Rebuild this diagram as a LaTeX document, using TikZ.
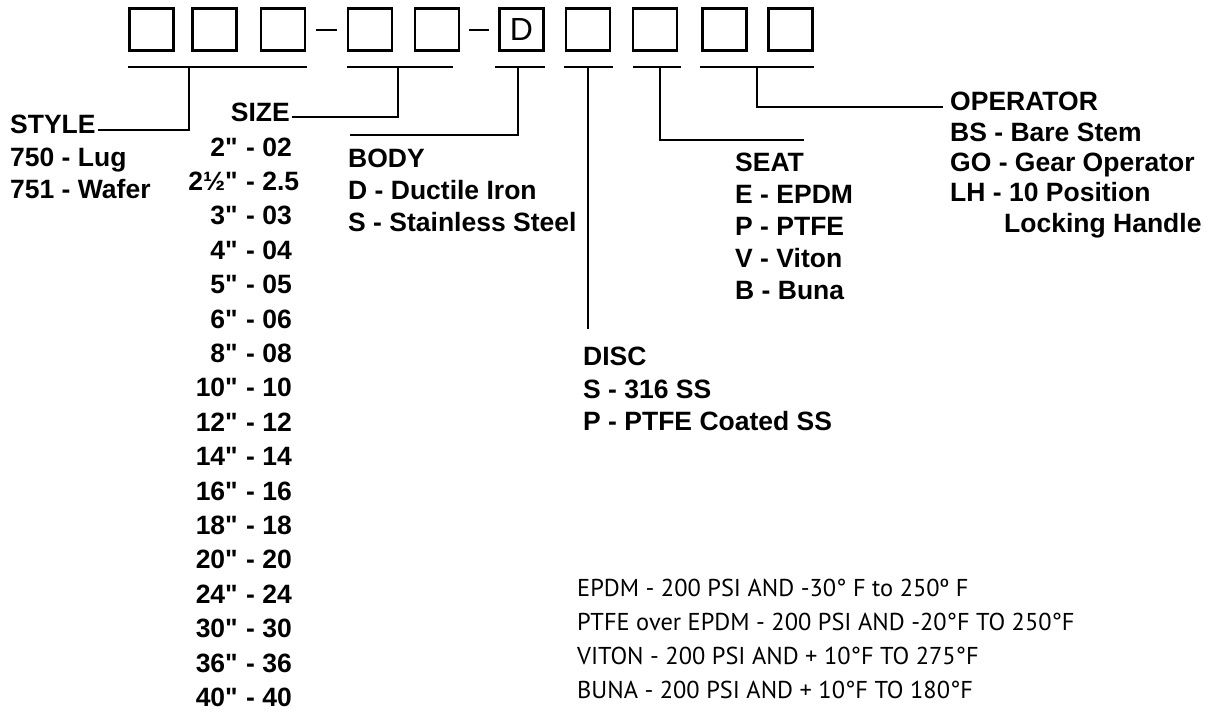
\documentclass[tikz,border=0pt]{standalone}
\usepackage{fontspec}
\setmainfont{Liberation Sans}[Ligatures=TeXOff]
\newfontfamily\notefont{PT Sans}
\newfontfamily\dfont{Liberation Sans}
\usetikzlibrary{calc}
\begin{document}
\begin{tikzpicture}[x=1pt,y=-1pt,
  digit/.style={draw, line width=2.6pt, minimum width=44pt, minimum height=42pt, inner sep=0pt},
  lbl/.style={font=\bfseries\fontsize{26.5}{30}\selectfont, inner sep=0pt, text height=19pt, text depth=0pt, anchor=west},
  note/.style={font=\notefont\fontsize{24.4}{28}\selectfont, inner sep=0pt, text height=17pt, text depth=0pt, anchor=west},
  lead/.style={line width=2.6pt},
  sep/.style={line width=2pt}]
\useasboundingbox (0,0) rectangle (1219,713);
% code boxes
\node[digit] (b1) at (151.5,29.5) {};
\node[digit] (b2) at (214.5,29.5) {};
\node[digit] (b3) at (283,29.5) {};
\node[digit] (b4) at (370,29.5) {};
\node[digit] (b5) at (437,29.5) {};
\node[digit, font=\dfont\fontsize{32}{34}\selectfont] (b6) at (521.5,29.5) {D};
\node[digit] (b7) at (588,29.5) {};
\node[digit] (b8) at (655,29.5) {};
\node[digit] (b9) at (724.5,29.5) {};
\node[digit] (b10) at (790.5,29.5) {};
% dashes
\draw[sep] ([xshift=10pt]b3.east) -- ([xshift=-10pt]b4.west);
\draw[sep] ([xshift=9pt]b5.east) -- ([xshift=-9pt]b6.west);
% underlines
\coordinate (u1a) at (128,67); \coordinate (u1b) at (307,67);
\coordinate (u2a) at (347,67); \coordinate (u2b) at (453,67);
\coordinate (u3a) at (495,67); \coordinate (u3b) at (545,67);
\coordinate (u4a) at (564,67); \coordinate (u4b) at (613,67);
\coordinate (u5a) at (633,67); \coordinate (u5b) at (681,67);
\coordinate (u6a) at (700,67); \coordinate (u6b) at (814,67);
\draw[lead] (u1a) -- (u1b);
\draw[lead] (u2a) -- (u2b);
\draw[lead] (u3a) -- (u3b);
\draw[lead] (u4a) -- (u4b);
\draw[lead] (u5a) -- (u5b);
\draw[lead] (u6a) -- (u6b);
% leader tap points
\coordinate (tstyle) at (189,67);
\coordinate (tsize) at (398,67);
\coordinate (tbody) at (518,67);
\coordinate (tdisc) at (588,67);
\coordinate (tseat) at (660,67);
\coordinate (toper) at (757,67);
% STYLE
\node[lbl] (nstyle) at (10,124) {STYLE};
\node[lbl] (st1) at (10,157) {750 - Lug};
\node[lbl] (st2) at (10,189) {751 - Wafer};
% SIZE
\node[lbl, anchor=east] (nsize) at (290,112) {SIZE};
\foreach \a/\b [count=\i] in {2/02, 2½/2.5, 3/03, 4/04, 5/05, 6/06, 8/08, 10/10, 12/12, 14/14, 16/16, 18/18, 20/20, 24/24, 30/30, 36/36, 40/40}{
  \node[lbl, anchor=east] (sl\i) at (238,{146.5+34.4*(\i-1)}) {\a\symbol{34}};
  \node[lbl] (sr\i) at (246,{146.5+34.4*(\i-1)}) {- \b};
}
% BODY
\node[lbl] (nbody) at (348,158) {BODY};
\node[lbl] (bo1) at (348,190) {D - Ductile Iron};
\node[lbl] (bo2) at (348,222) {S - Stainless Steel};
% SEAT
\node[lbl] (nseat) at (735,162) {SEAT};
\node[lbl] (se1) at (735,194) {E - EPDM};
\node[lbl] (se2) at (735,226) {P - PTFE};
\node[lbl] (se3) at (735,258) {V - Viton};
\node[lbl] (se4) at (735,290) {B - Buna};
% DISC
\node[lbl] (ndisc) at (583,356) {DISC};
\node[lbl] (di1) at (583,389) {S - 316 SS};
\node[lbl] (di2) at (583,421) {P - PTFE Coated SS};
% OPERATOR
\node[lbl] (noper) at (950,101) {OPERATOR};
\node[lbl] (op1) at (950,131.5) {BS - Bare Stem};
\node[lbl] (op2) at (950,162) {GO - Gear Operator};
\node[lbl] (op3) at (950,192) {LH - 10 Position};
\node[lbl] (op4) at (1004,222.5) {Locking Handle};
% leaders
\draw[lead] (tstyle) |- ([xshift=2pt,yshift=-6pt]nstyle.east);
\draw[lead] (tsize) |- ([xshift=2pt,yshift=-5pt]nsize.east);
\draw[lead] (tbody) |- ([xshift=2pt,yshift=23pt]nbody.west);
\draw[lead] (tdisc) -- ([yshift=17pt]ndisc.north -| tdisc);
\draw[lead] (tseat) |- ([xshift=69pt,yshift=22pt]nseat.west);
\draw[lead] (toper) |- ([xshift=-7pt,yshift=-6pt]noper.west);
% notes
\node[note] (n1) at (577,588) {EPDM - 200 PSI AND -30° F to 250º F};
\node[note] (n2) at (577,622) {PTFE over EPDM - 200 PSI AND -20°F TO 250°F};
\node[note] (n3) at (577,656) {VITON - 200 PSI AND + 10°F TO 275°F};
\node[note] (n4) at (577,690) {BUNA - 200 PSI AND + 10°F TO 180°F};
\end{tikzpicture}
\end{document}
